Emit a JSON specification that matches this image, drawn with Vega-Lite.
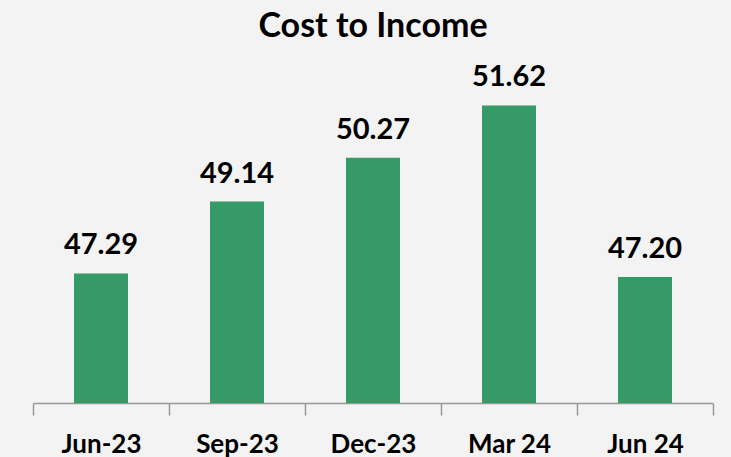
{
  "$schema": "https://vega.github.io/schema/vega-lite/v6.json",
  "autosize": "none",
  "width": 680,
  "height": 343,
  "padding": {"left": 33, "top": 60, "right": 18, "bottom": 54},
  "background": "#f3f3f3",
  "title": {"text": "Cost to Income", "font": "Lato", "fontSize": 34, "fontWeight": "bold", "color": "#000000", "anchor": "middle", "offset": 16},
  "data": {"values": [
    {"period": "Jun-23", "value": 47.29, "label": "47.29"},
    {"period": "Sep-23", "value": 49.14, "label": "49.14"},
    {"period": "Dec-23", "value": 50.27, "label": "50.27"},
    {"period": "Mar 24", "value": 51.62, "label": "51.62"},
    {"period": "Jun 24", "value": 47.20, "label": "47.20"}
  ]},
  "encoding": {
    "x": {"field": "period", "type": "nominal", "sort": null,
      "scale": {"paddingInner": 0, "paddingOuter": 0},
      "axis": {"title": null, "labelAngle": 0, "labelFont": "Lato", "labelFontSize": 26, "labelFontWeight": "bold", "labelColor": "#000000",
        "domainColor": "#999999", "tickColor": "#999999", "tickSize": 12, "tickBand": "extent", "labelPadding": 16, "domainWidth": 1.5, "tickWidth": 1.5}},
    "y": {"field": "value", "type": "quantitative",
      "scale": {"domain": [43.95, 52.79], "zero": false, "nice": false},
      "axis": null}
  },
  "layer": [
    {"mark": {"type": "bar", "width": 54, "color": "#359a68"},
     "encoding": {"y2": {"datum": 43.95}}},
    {"mark": {"type": "text", "baseline": "bottom", "dy": -13, "font": "Lato", "fontSize": 29, "fontWeight": "bold", "color": "#000000"},
     "encoding": {"text": {"field": "label"}}}
  ],
  "config": {"view": {"stroke": null}}
}
